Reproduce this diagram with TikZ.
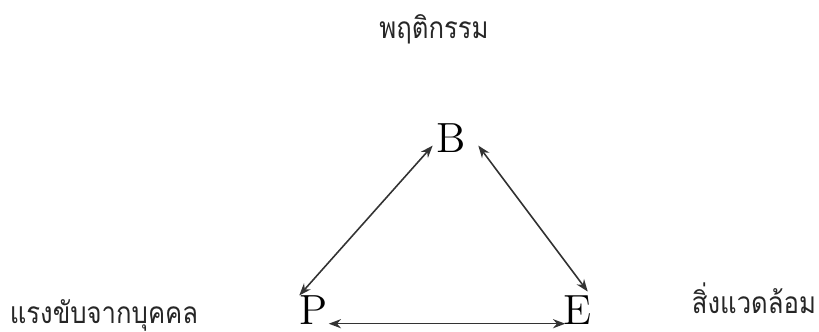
\documentclass[tikz,border=0pt]{standalone}
\usepackage{fontspec}
\newfontfamily\thaifont[Script=Thai, FakeStretch=0.86]{Loma}
\usetikzlibrary{arrows.meta, positioning, calc}
\tikzset{
    % --- Single-letter vertex (B, P, E) ---
    vertex/.style = {
        inner sep=0pt, font=\large, anchor=base
    },
    % --- Thai caption beside a vertex ---
    caption/.style = {
        font=\thaifont\fontsize{8.5}{10}\selectfont, inner sep=0pt,
        text=black!85
    },
    % --- Two-way influence arrow ---
    link/.style = {
        {Stealth[length=3.5pt,width=2.6pt]}-{Stealth[length=3.5pt,width=2.6pt]},
        line width=0.45pt, black!80
    }
}
\begin{document}
\begin{tikzpicture}
\useasboundingbox (0,0) rectangle (8.19,3.32);

% ---------------------------------------------------------
% Vertices of the triangle
% ---------------------------------------------------------
\node[vertex] (B) at (4.51, 1.79) {B};
\node[vertex] (P) at (3.14, 0.07) {P};
\node[vertex] (E) at (5.78, 0.07) {E};

% ---------------------------------------------------------
% Captions
% ---------------------------------------------------------
\node[caption] (Beh) at (4.34, 3.03) {พฤติกรรม};
\node[caption] (Pers) at (1.04, 0.17) {แรงขับจากบุคคล};
\node[caption] (Env) at (7.54, 0.34) {สิ่งแวดล้อม};

% ---------------------------------------------------------
% Links
% ---------------------------------------------------------
\draw[link] (P.north west) -- ($(B.west) + (-0.03, -0.07)$);
\draw[link] ($(B.east) + (0.12, -0.07)$) -- ($(E.north east) + (-0.05, 0.04)$);
\draw[link] ($(P.south east) + (0, 0.02)$) -- ($(E.south west) + (0.02, 0.02)$);

\end{tikzpicture}
\end{document}
